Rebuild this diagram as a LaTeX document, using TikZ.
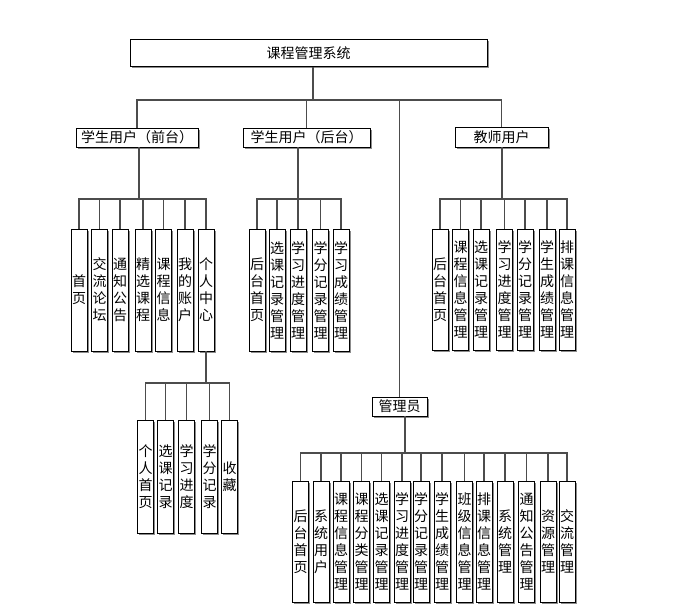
\documentclass[tikz,border=0pt]{standalone}
\usepackage{fontspec}
\newfontfamily\zh{Noto Sans CJK SC}
\usetikzlibrary{shadows}
\tikzset{
  sysbox/.style = {draw, line width=0.8pt, fill=white, inner sep=0pt,
    drop shadow={shadow xshift=1.5pt, shadow yshift=-1.5pt, fill=black!45, opacity=1},
    font=\zh\fontsize{14}{17}\selectfont},
  leaf/.style = {sysbox, minimum width=16pt, align=center},
  link/.style = {line width=1.3pt, black!70},
}

\begin{document}
\begin{tikzpicture}[x=1pt, y=-1pt]
	\useasboundingbox (0,0) rectangle (675,610);

	\node[sysbox, minimum width=357pt, minimum height=27pt] (sys) at (308.5,53) {课程管理系统};

	\node[sysbox, minimum width=122pt, minimum height=19pt] (front) at (137,137.5) {学生用户（前台）};
	\node[sysbox, minimum width=127pt, minimum height=19pt] (back) at (306.5,137.5) {学生用户（后台）};
	\node[sysbox, minimum width=93pt, minimum height=20pt] (teacher) at (501.5,137) {教师用户};
	\node[sysbox, minimum width=55pt, minimum height=19pt] (admin) at (399.5,406.5) {管理员};

	\coordinate (j0) at (313,100);
	\coordinate (jf) at (139,199);
	\coordinate (jb) at (298,199);
	\coordinate (jt) at (502,199);
	\coordinate (jp) at (206,383);
	\coordinate (ja) at (405,453);

	\draw[link] (sys.south -| j0) -- (j0);
	\draw[link] (front.north) |- (j0);
	\draw[link] (back.north) |- (j0);
	\draw[link] (teacher.north) |- (j0);
	\draw[link] (admin.north) |- (j0);

	\draw[link] (front.south -| jf) -- (jf);
	\draw[link] (back.south -| jb) -- (jb);
	\draw[link] (teacher.south -| jt) -- (jt);
	\draw[link] (admin.south -| ja) -- (ja);

	% student front end
	\foreach \x/\t [count=\n] in {79/首\\页, 99.5/交\\流\\论\\坛, 120/通\\知\\公\\告, 143/精\\选\\课\\程,
		163.5/课\\程\\信\\息, 185/我\\的\\账\\户, 206/个\\人\\中\\心}{
		\node[leaf, minimum height=122pt] (f\n) at (\x,290) {\t};
		\draw[link] (f\n.north) |- (jf);
	}
	\draw[link] (f7.south) -- (jp);

	% personal centre
	\foreach \x/\t [count=\n] in {145.5/个\\人\\首\\页, 165.5/选\\课\\记\\录, 186.5/学\\习\\进\\度,
		209.5/学\\分\\记\\录, 229.5/收\\藏}{
		\node[leaf, minimum height=113pt] (p\n) at (\x,476.5) {\t};
		\draw[link] (p\n.north) |- (jp);
	}

	% student back end
	\foreach \x/\t [count=\n] in {257/后\\台\\首\\页, 277/选\\课\\记\\录\\管\\理, 298/学\\习\\进\\度\\管\\理,
		320.5/学\\分\\记\\录\\管\\理, 341/学\\习\\成\\绩\\管\\理}{
		\node[leaf, minimum height=122pt] (b\n) at (\x,290) {\t};
		\draw[link] (b\n.north) |- (jb);
	}

	% teacher
	\foreach \x/\t [count=\n] in {440/后\\台\\首\\页, 460.5/课\\程\\信\\息\\管\\理, 481/选\\课\\记\\录\\管\\理,
		504.5/学\\习\\进\\度\\管\\理, 525/学\\分\\记\\录\\管\\理, 547/学\\生\\成\\绩\\管\\理, 567/排\\课\\信\\息\\管\\理}{
		\node[leaf, minimum height=121pt] (t\n) at (\x,289.5) {\t};
		\draw[link] (t\n.north) |- (jt);
	}

	% admin
	\foreach \x/\t [count=\n] in {300.5/后\\台\\首\\页, 321/系\\统\\用\\户, 341/课\\程\\信\\息\\管\\理,
		361.5/课\\程\\分\\类\\管\\理, 381.5/选\\课\\记\\录\\管\\理, 402/学\\习\\进\\度\\管\\理,
		421/学\\分\\记\\录\\管\\理, 442/学\\生\\成\\绩\\管\\理, 464.5/班\\级\\信\\息\\管\\理,
		484/排\\课\\信\\息\\管\\理, 505/系\\统\\管\\理, 526.5/通\\知\\公\\告\\管\\理,
		548/资\\源\\管\\理, 567/交\\流\\管\\理}{
		\node[leaf, minimum height=121pt] (a\n) at (\x,541.5) {\t};
		\draw[link] (a\n.north) |- (ja);
	}
\end{tikzpicture}
\end{document}
